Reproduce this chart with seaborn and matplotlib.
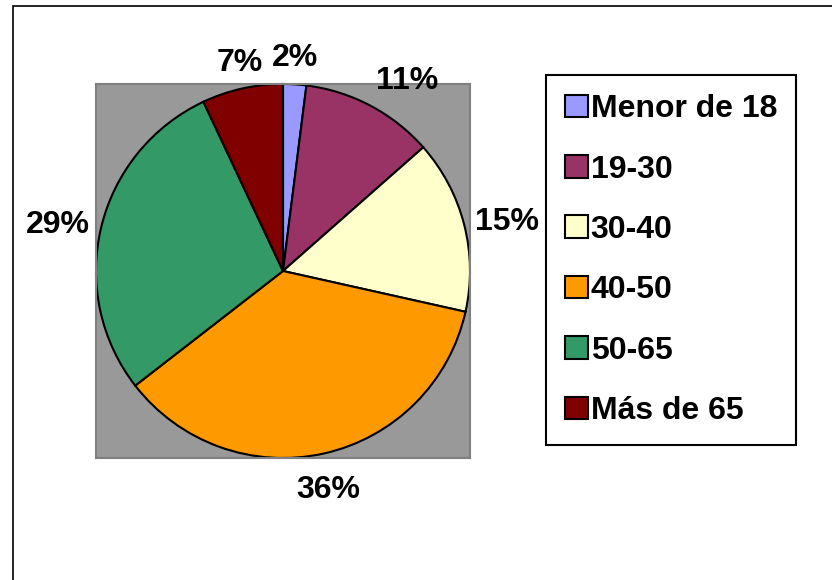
import matplotlib.pyplot as plt
import matplotlib.patches as mpatches
import seaborn as sns
import numpy as np

categorias = ['Menor de 18', '19-30', '30-40', '40-50', '50-65', 'Más de 65']
valores = [2.0, 11.5, 15.0, 36.0, 28.5, 7.0]
etiquetas = ['2%', '11%', '15%', '36%', '29%', '7%']
colores = ['#9999FF', '#993366', '#FFFFCC', '#FF9900', '#339966', '#800000']

sns.set_theme(style='white')
plt.rcParams['font.family'] = ['Liberation Sans', 'DejaVu Sans']
plt.rcParams['text.color'] = 'black'

fig = plt.figure(figsize=(8.32, 5.8), dpi=100)
ax = fig.add_axes([96/832, 1 - 458/580, 374/832, 374/580])

wedges, _ = ax.pie(valores, colors=colores, startangle=90, counterclock=False,
                   radius=1, frame=True,
                   wedgeprops=dict(edgecolor='black', linewidth=1.5))
ax.set_facecolor('#999999')
ax.set_xlim(-1, 1)
ax.set_ylim(-1, 1)
ax.set_aspect('auto')
ax.set_xticks([])
ax.set_yticks([])
for s in ax.spines.values():
    s.set_visible(True)
    s.set_color('#808080')
    s.set_linewidth(1.5)

# etiquetas fuera del pastel, alineadas hacia afuera
for w, txt in zip(wedges, etiquetas):
    ang = np.deg2rad((w.theta1 + w.theta2) / 2)
    c, s = np.cos(ang), np.sin(ang)
    ha = 'left' if c > 0.3 else ('right' if c < -0.3 else 'center')
    va = 'bottom' if s > 0.3 else ('top' if s < -0.3 else 'center')
    r = 1.06 if s > -0.3 else 1.12
    ax.text(r * c, r * s, txt, ha=ha, va=va, color='black',
            fontsize=23, fontweight='bold', clip_on=False)

leg = fig.legend(wedges, categorias, loc='upper left',
                 bbox_to_anchor=(546/832, 1 - 75/580), borderaxespad=0,
                 prop=dict(size=23, weight='bold'), fancybox=False,
                 edgecolor='black', framealpha=1, labelspacing=0.95,
                 handlelength=0.7, handleheight=0.7, handletextpad=0.1,
                 borderpad=0.6, labelcolor='black')
leg.get_frame().set_linewidth(1.5)

fig.patches.append(mpatches.Rectangle((13/832, -0.1), 1.0, 1.1 - 6/580,
                                      transform=fig.transFigure, fill=False,
                                      edgecolor='black', linewidth=1.2))

plt.savefig('out.png', dpi=100)
